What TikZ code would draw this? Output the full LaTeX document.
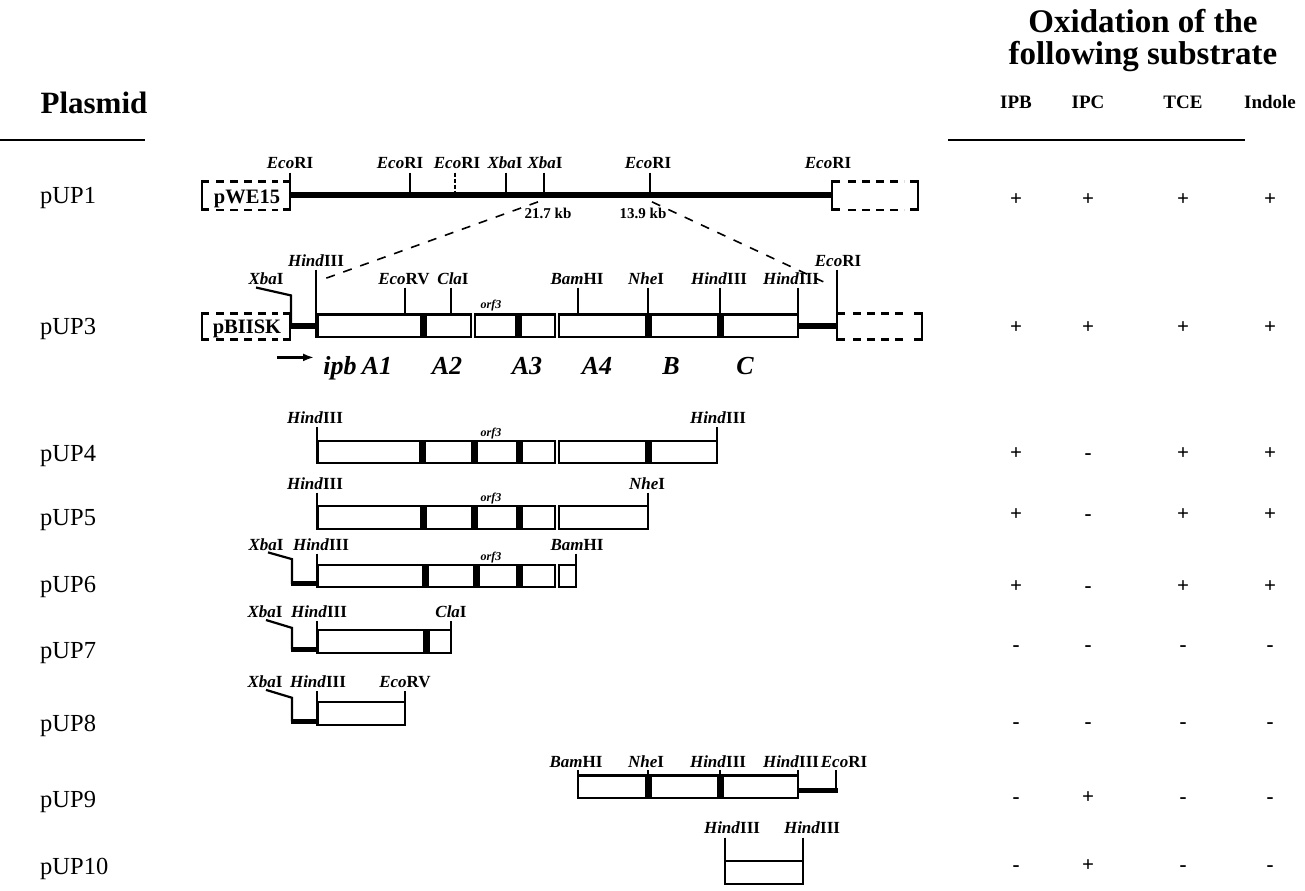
\documentclass[tikz,border=0pt]{standalone}
\usepackage{fontspec}
\setmainfont{Liberation Serif}
\usetikzlibrary{arrows.meta}
\newcommand\sE{\textit{Eco}RI}
\newcommand\sH{\textit{Hind}III}
\newcommand\sX{\textit{Xba}I}
\newcommand\sV{\textit{Eco}RV}
\newcommand\sC{\textit{Cla}I}
\newcommand\sB{\textit{Bam}HI}
\newcommand\sN{\textit{Nhe}I}
\newcommand\Seg[3]{\draw[segbox] (#1,#3) rectangle (#2,{#3+20});}
\newcommand\Sep[3]{\fill ({#1},{#3-1}) rectangle ({#2},{#3+21});}
\newcommand\Tk[3]{\draw[tk] (#1,#2) -- (#1,#3);}
\begin{document}
\begin{tikzpicture}[x=1pt,y=-1.127pt,
  site/.style={font=\fontsize{17}{19}\selectfont\bfseries, inner sep=0pt, anchor=base},
  orf/.style={font=\fontsize{12}{14}\selectfont\bfseries\itshape, inner sep=0pt, anchor=base},
  rowlab/.style={font=\fontsize{24.5}{28}\selectfont, anchor=base west, inner sep=0pt},
  res/.style={font=\fontsize{21}{23}\selectfont\bfseries, inner sep=0pt, anchor=base},
  colhead/.style={font=\fontsize{19}{22}\selectfont\bfseries, inner sep=0pt, anchor=base},
  gene/.style={font=\fontsize{26}{28}\selectfont\bfseries\itshape, inner sep=0pt, anchor=base},
  kb/.style={font=\fontsize{15}{17}\selectfont\bfseries, inner sep=0pt, anchor=base},
  big/.style={font=\fontsize{31}{34}\selectfont\bfseries, inner sep=0pt, anchor=base},
  hdr/.style={font=\fontsize{33}{36}\selectfont\bfseries, inner sep=0pt, anchor=base},
  boxtxt/.style={font=\fontsize{20.5}{22}\selectfont\bfseries, inner sep=0pt, anchor=base},
  segbox/.style={draw, line width=2.2pt},
  tk/.style={line width=2.2pt},
  brk/.style={line width=2.6pt},
  thk/.style={line width=6.5pt},
  mid/.style={line width=5pt},
  dsh/.style={line width=2.4pt, dash pattern=on 8pt off 6pt},
  dl/.style={line width=1.6pt, dash pattern=on 9pt off 9pt}]
\useasboundingbox (0,8.87) rectangle (1305,798.6);

% ---------- headers ----------
\node[big] (hplas) at (94,110) {Plasmid};
\draw[line width=1.5pt] (0,133) -- (145,133);
\node[hdr] (hox1) at (1143,38) {Oxidation of the};
\node[hdr] (hox2) at (1143,66) {following substrate};
\node[colhead] (cIPB) at (1016,105) {IPB};
\node[colhead] (cIPC) at (1088,105) {IPC};
\node[colhead] (cTCE) at (1183,105) {TCE};
\node[colhead] (cInd) at (1270,105) {Indole};
\draw[line width=1.5pt] (948,133) -- (1245,133);

% ---------- row labels ----------
\node[rowlab] (l1) at (40,189) {pUP1};
\node[rowlab] (l3) at (40,306) {pUP3};
\node[rowlab] (l4) at (40,418) {pUP4};
\node[rowlab] (l5) at (40,475) {pUP5};
\node[rowlab] (l6) at (40,535) {pUP6};
\node[rowlab] (l7) at (40,593) {pUP7};
\node[rowlab] (l8) at (40,658) {pUP8};
\node[rowlab] (l9) at (40,725) {pUP9};
\node[rowlab] (l10) at (40,785) {pUP10};

% ---------- results ----------
\foreach \n/\y/\a/\b/\c/\d in {1/191/+/+/+/+, 3/305/+/+/+/+, 4/417/+/-/+/+, 5/471/+/-/+/+,
  6/535/+/-/+/+, 7/587/-/-/-/-, 8/655/-/-/-/-, 9/722/-/+/-/-, 10/782/-/+/-/-}{
  \node[res] (r\n-1) at (1016,\y) {\a};
  \node[res] (r\n-2) at (1088,\y) {\b};
  \node[res] (r\n-3) at (1183,\y) {\c};
  \node[res] (r\n-4) at (1270,\y) {\d};
}

% ---------- pUP1 ----------
\coordinate (w1) at (202,170);
\coordinate (w2) at (290,195);
\node[boxtxt] (pwe) at (247,189) {pWE15};
\draw[brk] (209,170) -- (w1) |- (209,195);
\draw[brk] (283,170) -| (w2) -- (283,195);
\draw[dsh] (216,170) -- (278,170);
\draw[dsh] (216,195) -- (278,195);
\draw[thk] (290,182) -- (832,182);
\Tk{290}{162}{195}
\Tk{410}{162}{182}
\draw[tk, dash pattern=on 4pt off 2pt] (455,162) -- (455,182);
\Tk{506}{162}{182}
\Tk{544}{162}{182}
\Tk{650}{162}{182}
\draw[brk] (840,170) -- (832,170) -- (832,195) -- (840,195);
\draw[brk] (910,170) -- (918,170) -- (918,195) -- (910,195);
\draw[dsh] (848,170) -- (904,170);
\draw[dsh] (848,195) -- (904,195);
\node[site] (a1) at (290,158) {\sE};
\node[site] (a2) at (400,158) {\sE};
\node[site] (a3) at (457,158) {\sE};
\node[site] (a4) at (505,158) {\sX};
\node[site] (a5) at (545,158) {\sX};
\node[site] (a6) at (648,158) {\sE};
\node[site] (a7) at (828,158) {\sE};
\node[kb] (kb1) at (548,203) {21.7 kb};
\node[kb] (kb2) at (643,203) {13.9 kb};
\coordinate (d1a) at (538,188);
\coordinate (d1b) at (319,258);
\coordinate (d2a) at (652,188);
\coordinate (d2b) at (826,260);
\draw[dl] (d1a) -- (d1b);
\draw[dl] (d2a) -- (d2b);

% ---------- pUP3 ----------
\coordinate (s1) at (202,287);
\coordinate (s2) at (290,310);
\node[boxtxt] (pbs) at (247,305) {pBIISK};
\draw[brk] (209,287) -- (s1) |- (209,310);
\draw[brk] (283,287) -| (s2) -- (283,310);
\draw[dsh] (216,287) -- (278,287);
\draw[dsh] (216,310) -- (278,310);
\draw[thk] (290,298) -- (318,298);
\draw[thk] (798,298) -- (837,298);
\Seg{318}{421}{288}\Sep{421}{426}{288}\Seg{426}{471}{288}\Seg{475}{516}{288}
\Sep{516}{521}{288}\Seg{521}{555}{288}\Seg{559}{646}{288}\Sep{646}{651}{288}
\Seg{651}{718}{288}\Sep{718}{723}{288}\Seg{723}{798}{288}
\Tk{316}{248}{309}
\draw[brk] (837,248) -- (837,310) -- (845,310);
\draw[brk] (845,287) -- (837,287);
\draw[brk] (914,287) -- (922,287) -- (922,310) -- (914,310);
\draw[dsh] (853,287) -- (908,287);
\draw[dsh] (853,310) -- (908,310);
\Tk{405}{264}{288}\Tk{451}{264}{288}\Tk{578}{264}{288}
\Tk{648}{264}{288}\Tk{720}{264}{288}\Tk{798}{264}{288}
\draw[tk] (256,264) -- (291,271) -- (291,296);
\node[site] (b1) at (316,245) {\sH};
\node[site] (b2) at (266,261) {\sX};
\node[site] (b3) at (404,261) {\sV};
\node[site] (b4) at (453,261) {\sC};
\node[orf] (b5) at (491,283) {orf3};
\node[site] (b6) at (577,261) {\sB};
\node[site] (b7) at (646,261) {\sN};
\node[site] (b8) at (719,261) {\sH};
\node[site] (b9) at (791,261) {\sH};
\node[site] (b10) at (838,245) {\sE};
\coordinate (ar1) at (277,326);
\coordinate (ar2) at (314,326);
\draw[line width=2.2pt, -{Latex[length=11pt,width=8pt]}] (ar1) -- (ar2);
\node[gene] (g1) at (340,341) {ipb};
\node[gene] (g2) at (377,341) {A1};
\node[gene] (g3) at (447,341) {A2};
\node[gene] (g4) at (527,341) {A3};
\node[gene] (g5) at (597,341) {A4};
\node[gene] (g6) at (671,341) {B};
\node[gene] (g7) at (745,341) {C};

% ---------- pUP4 ----------
\Seg{318}{420}{400}\Sep{420}{425}{400}\Seg{425}{472}{400}\Sep{472}{477}{400}
\Seg{477}{517}{400}\Sep{517}{522}{400}\Seg{522}{555}{400}\Seg{559}{646}{400}
\Sep{646}{651}{400}\Seg{651}{717}{400}
\Tk{317}{388}{421}\Tk{717}{388}{421}
\node[site] (c1) at (315,385) {\sH};
\node[site] (c2) at (718,385) {\sH};
\node[orf] (c3) at (491,396) {orf3};

% ---------- pUP5 ----------
\Seg{318}{421}{458}\Sep{421}{426}{458}\Seg{426}{472}{458}\Sep{472}{477}{458}
\Seg{477}{517}{458}\Sep{517}{522}{458}\Seg{522}{555}{458}\Seg{559}{648}{458}
\Tk{317}{446}{479}\Tk{648}{446}{479}
\node[site] (e1) at (315,443) {\sH};
\node[site] (e2) at (647,443) {\sN};
\node[orf] (e3) at (491,454) {orf3};

% ---------- pUP6 ----------
\Seg{318}{423}{510}\Sep{423}{428}{510}\Seg{428}{474}{510}\Sep{474}{479}{510}
\Seg{479}{517}{510}\Sep{517}{522}{510}\Seg{522}{555}{510}\Seg{559}{576}{510}
\Tk{317}{500}{531}\Tk{576}{500}{531}
\draw[tk] (268,499) -- (292,505) -- (292,527);
\draw[mid] (291,527) -- (318,527);
\node[site] (f1) at (266,497) {\sX};
\node[site] (f2) at (321,497) {\sH};
\node[site] (f3) at (577,497) {\sB};
\node[orf] (f4) at (491,506) {orf3};

% ---------- pUP7 ----------
\Seg{318}{424}{568}\Sep{424}{429}{568}\Seg{429}{451}{568}
\Tk{317}{560}{589}\Tk{451}{560}{589}
\draw[tk] (266,559) -- (292,566) -- (292,585);
\draw[mid] (291,585) -- (318,585);
\node[site] (h1) at (265,557) {\sX};
\node[site] (h2) at (319,557) {\sH};
\node[site] (h3) at (451,557) {\sC};

% ---------- pUP8 ----------
\Seg{318}{405}{632}
\Tk{317}{622}{653}\Tk{405}{622}{653}
\draw[tk] (266,621) -- (292,628) -- (292,649);
\draw[mid] (291,649) -- (318,649);
\node[site] (k1) at (265,619) {\sX};
\node[site] (k2) at (318,619) {\sH};
\node[site] (k3) at (405,619) {\sV};

% ---------- pUP9 ----------
\Seg{578}{646}{697}\Sep{646}{651}{697}\Seg{651}{718}{697}\Sep{718}{723}{697}\Seg{723}{798}{697}
\Tk{578}{692}{718}\Tk{648}{692}{697}\Tk{720}{692}{697}\Tk{798}{692}{718}
\draw[mid] (798,710) -- (838,710);
\Tk{836}{692}{712}
\node[site] (m1) at (576,690) {\sB};
\node[site] (m2) at (646,690) {\sN};
\node[site] (m3) at (718,690) {\sH};
\node[site] (m4) at (791,690) {\sH};
\node[site] (m5) at (844,690) {\sE};

% ---------- pUP10 ----------
\Seg{725}{803}{773}
\Tk{725}{752}{794}\Tk{803}{752}{794}
\node[site] (n1) at (732,748) {\sH};
\node[site] (n2) at (812,748) {\sH};
\end{tikzpicture}
\end{document}
